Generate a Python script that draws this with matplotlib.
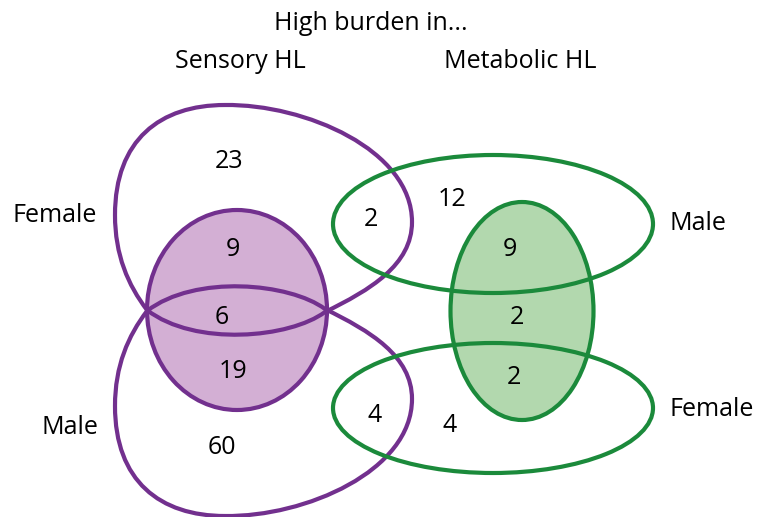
import matplotlib.pyplot as plt
from matplotlib.patches import Ellipse, PathPatch
from matplotlib.path import Path

plt.rcParams['font.family'] = ['Open Sans', 'DejaVu Sans']

# counts in each region
sensory_counts = [23, 9, 6, 19, 60]        # female only, female+HL, both, male+HL, male only
sensory_pos = [(229, 161), (233, 250), (222, 317), (233, 372), (222, 448)]
metabolic_counts = [2, 12, 9, 2, 2, 4, 4]
metabolic_pos = [(371, 219), (452, 199), (510, 250), (517, 317), (514, 377), (375, 415), (450, 425)]
side_labels = ['Female', 'Male', 'Male', 'Female']
side_pos = [(55, 215), (70, 427), (698, 224), (712, 410)]

purple = '#72308e'
purple_fill = '#d3afd4'
green = '#1b8a3b'
green_fill = '#b2d8ae'
lw = 3.0
fs = 18

fig = plt.figure(figsize=(7.59, 5.17), dpi=100)
ax = fig.add_axes([0, 0, 1, 1])
ax.set_xlim(0, 759)
ax.set_ylim(517, 0)
ax.axis('off')


def teardrop(flip):
    pts = [(147, 310),
           (128, 285), (115, 255), (115, 215),
           (115, 140), (160, 105), (225, 105),
           (305, 104), (412, 150), (412, 222),
           (412, 265), (370, 290), (325, 312),
           (290, 338), (195, 347), (147, 310)]
    if flip:
        pts = [(x, 621 - y) for x, y in pts]
    codes = [Path.MOVETO] + [Path.CURVE4] * 15
    return PathPatch(Path(pts, codes), facecolor='none', edgecolor=purple, lw=lw, zorder=3)


# filled ellipses under the outlines
ax.add_patch(Ellipse((237, 310), 180, 200, facecolor=purple_fill, edgecolor=purple, lw=lw, zorder=2))
ax.add_patch(Ellipse((522, 311), 143, 218, facecolor=green_fill, edgecolor=green, lw=lw, zorder=2))

ax.add_patch(teardrop(False))
ax.add_patch(teardrop(True))
ax.add_patch(Ellipse((493, 224), 320, 138, facecolor='none', edgecolor=green, lw=lw, zorder=3))
ax.add_patch(Ellipse((493, 408), 320, 130, facecolor='none', edgecolor=green, lw=lw, zorder=3))

for n, (x, y) in zip(sensory_counts + metabolic_counts, sensory_pos + metabolic_pos):
    ax.text(x, y, str(n), ha='center', va='center', fontsize=fs, zorder=5)
for s, (x, y) in zip(side_labels, side_pos):
    ax.text(x, y, s, ha='center', va='center', fontsize=fs)

ax.text(371, 23, 'High burden in...', ha='center', va='center', fontsize=fs)
ax.text(240, 61, 'Sensory HL', ha='center', va='center', fontsize=fs)
ax.text(520, 61, 'Metabolic HL', ha='center', va='center', fontsize=fs)

fig.savefig('out.png', dpi=100)
